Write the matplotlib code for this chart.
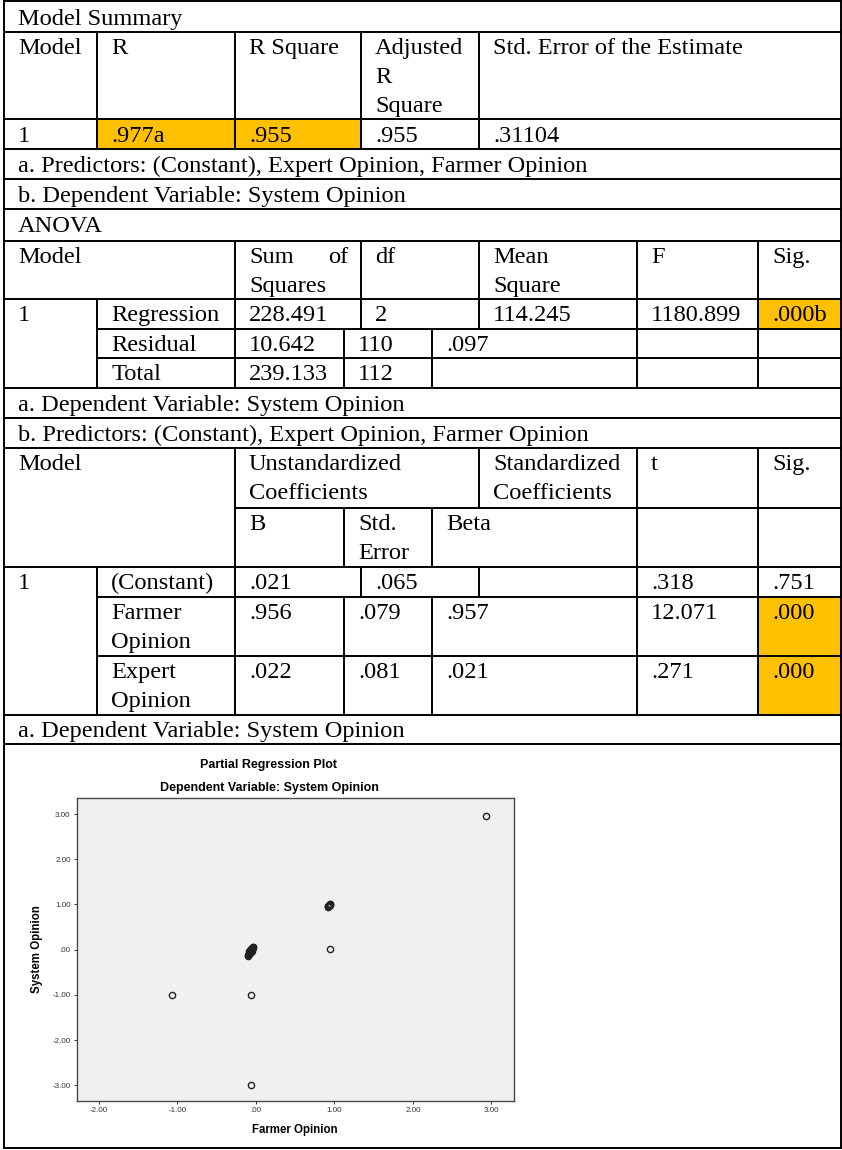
import matplotlib
matplotlib.use("Agg")
import matplotlib.pyplot as plt
from matplotlib.patches import Rectangle

# ---------------- data ----------------
summary_title = "Model Summary"
summary_header = ["Model", "R", "R Square", "Adjusted\nR\nSquare", "Std. Error of the Estimate"]
summary_row = ["1", ".977a", ".955", ".955", ".31104"]
summary_notes = ["a. Predictors: (Constant), Expert Opinion, Farmer Opinion",
                 "b. Dependent Variable: System Opinion"]

anova_title = "ANOVA"
anova_header = ["Model", "Sum of\nSquares", "df", "Mean\nSquare", "F", "Sig."]
anova_model = "1"
anova_sources = ["Regression", "Residual", "Total"]
anova_ss = ["228.491", "10.642", "239.133"]
anova_df = ["2", "110", "112"]
anova_ms = ["114.245", ".097", ""]
anova_f = ["1180.899", "", ""]
anova_sig = [".000b", "", ""]
anova_notes = ["a. Dependent Variable: System Opinion",
               "b. Predictors: (Constant), Expert Opinion, Farmer Opinion"]

coef_header_top = ["Model", "Unstandardized\nCoefficients", "Standardized\nCoefficients", "t", "Sig."]
coef_header_sub = ["B", "Std.\nError", "Beta"]
coef_model = "1"
coef_terms = ["(Constant)", "Farmer\nOpinion", "Expert\nOpinion"]
coef_b = [".021", ".956", ".022"]
coef_se = [".065", ".079", ".081"]
coef_beta = ["", ".957", ".021"]
coef_t = [".318", "12.071", ".271"]
coef_sig = [".751", ".000", ".000"]
coef_notes = ["a. Dependent Variable: System Opinion"]

plot_title = "Partial Regression Plot"
plot_subtitle = "Dependent Variable: System Opinion"
x_label = "Farmer Opinion"
y_label = "System Opinion"
x_ticks = [-2, -1, 0, 1, 2, 3]
x_tick_labels = ["-2.00", "-1.00", ".00", "1.00", "2.00", "3.00"]
y_ticks = [3, 2, 1, 0, -1, -2, -3]
y_tick_labels = ["3.00", "2.00", "1.00", ".00", "-1.00", "-2.00", "-3.00"]

# partial regression residuals
farmer_resid = [2.93,
                0.915, 0.92, 0.925, 0.93, 0.935, 0.94, 0.945, 0.93, 0.94,
                0.945,
                -0.10, -0.095, -0.09, -0.088, -0.085, -0.08, -0.078, -0.075,
                -0.072, -0.07, -0.068, -0.065, -0.062, -0.06, -0.058, -0.055,
                -0.052, -0.05, -0.048, -0.045, -0.042, -0.04, -0.075, -0.065,
                -0.055, -0.085, -0.06, -0.05,
                -1.07, -0.065, -0.06]
system_resid = [2.96,
                0.95, 0.96, 0.975, 0.985, 0.995, 1.005, 1.01, 0.97, 0.99,
                0.01,
                -0.13, -0.12, -0.10, -0.09, -0.08, -0.07, -0.06, -0.05,
                -0.04, -0.035, -0.03, -0.02, -0.01, 0.00, 0.01, 0.015,
                0.02, 0.03, 0.035, 0.04, 0.05, 0.06, -0.02, 0.02,
                -0.04, -0.03, -0.06, 0.00,
                -1.01, -1.01, -2.99]

# ---------------- layout ----------------
W, H = 842, 1150
fig = plt.figure(figsize=(W / 100, H / 100), dpi=100)
tab = fig.add_axes([0, 0, 1, 1])
tab.set_xlim(0, W)
tab.set_ylim(H, 0)
tab.axis("off")

SERIF = ["Liberation Serif", "DejaVu Serif"]
SANS = ["Liberation Sans", "DejaVu Sans"]
FS = 17.6
LS = 29
ORANGE = "#FFC000"
L, R = 4, 841


def txt(x, y, s, ha="left"):
    for i, line in enumerate(s.split("\n")):
        tab.text(x, y + i * LS, line, fontsize=FS, family=SERIF, ha=ha,
                 va="baseline", color="black")


def just(x0, x1, y, s):
    # justified first line (e.g. "Sum    of") + following lines
    lines = s.split("\n")
    words = lines[0].split()
    tab.text(x0, y, words[0], fontsize=FS, family=SERIF, va="baseline")
    tab.text(x1, y, words[-1], fontsize=FS, family=SERIF, va="baseline", ha="right")
    for i, line in enumerate(lines[1:], 1):
        tab.text(x0, y + i * LS, line, fontsize=FS, family=SERIF, va="baseline")


def cell(x0, y0, x1, y1):
    tab.add_patch(Rectangle((x0, y0), x1 - x0, y1 - y0, facecolor=ORANGE,
                            edgecolor="none", zorder=0))


# highlighted cells
cell(97, 119, 235, 149)
cell(235, 119, 361, 149)
cell(758, 299, 841, 329)
cell(758, 597, 841, 656)
cell(758, 656, 841, 715)

LW = 1.4
hl = [(1, L, R), (32, L, R), (119, L, R), (149, L, R), (179, L, R), (209, L, R),
      (241, L, R), (299, L, R), (329, 97, R), (358, 97, R), (388, L, R),
      (418, L, R), (448, L, R), (508, 235, R), (567, L, R), (597, 97, R),
      (656, 97, R), (715, L, R), (744, L, R), (1148, L, R)]
for y, x0, x1 in hl:
    tab.plot([x0, x1], [y, y], color="black", lw=LW, solid_capstyle="projecting")

vl = [(L, 1, 1148), (R, 1, 1148),
      (97, 32, 149), (235, 32, 149), (361, 32, 149), (479, 32, 149),
      (235, 241, 388), (97, 299, 388), (361, 241, 329), (479, 241, 329),
      (344, 329, 388), (432, 329, 388), (637, 241, 388), (758, 241, 388),
      (235, 448, 715), (479, 448, 508), (637, 448, 715), (758, 448, 715),
      (344, 508, 567), (432, 508, 567), (97, 567, 715), (361, 567, 597),
      (479, 567, 597), (344, 597, 715), (432, 597, 715)]
for x, y0, y1 in vl:
    tab.plot([x, x], [y0, y1], color="black", lw=LW, solid_capstyle="projecting")

# ---- Model summary text
txt(18, 25, summary_title)
for s, x in zip(summary_header, [18, 111, 249, 375, 493]):
    txt(x, 54, s)
for s, x in zip(summary_row, [18, 111, 249, 375, 493]):
    txt(x, 142, s)
for i, s in enumerate(summary_notes):
    txt(18, 172 + 30 * i, s)

# ---- ANOVA text
txt(18, 232, anova_title)
txt(18, 263, anova_header[0])
just(249, 348, 263, anova_header[1])
for s, x in zip(anova_header[2:], [375, 493, 651, 772]):
    txt(x, 263, s)
txt(18, 321, anova_model)
row_y = [321, 351, 380]
row_x = [[111, 249, 375, 493, 651, 772],
         [111, 249, 358, 446, 651, 772],
         [111, 249, 358, 446, 651, 772]]
for i in range(3):
    vals = [anova_sources[i], anova_ss[i], anova_df[i], anova_ms[i], anova_f[i], anova_sig[i]]
    for s, x in zip(vals, row_x[i]):
        if s:
            txt(x, row_y[i], s)
for i, s in enumerate(anova_notes):
    txt(18, 411 + 30 * i, s)

# ---- Coefficients text
for s, x in zip(coef_header_top, [18, 249, 493, 651, 772]):
    txt(x, 470, s)
for s, x in zip(coef_header_sub, [249, 358, 446]):
    txt(x, 530, s)
txt(18, 589, coef_model)
crow_y = [589, 619, 678]
crow_x = [[111, 249, 375, 446, 651, 772],
          [111, 249, 358, 446, 651, 772],
          [111, 249, 358, 446, 651, 772]]
for i in range(3):
    vals = [coef_terms[i], coef_b[i], coef_se[i], coef_beta[i], coef_t[i], coef_sig[i]]
    for s, x in zip(vals, crow_x[i]):
        if s:
            txt(x, crow_y[i], s)
txt(18, 737, coef_notes[0])

# ---- partial regression plot
ax_l, ax_r, ax_t, ax_b = 76.5, 514, 798, 1101
ax = fig.add_axes([ax_l / W, 1 - ax_b / H, (ax_r - ax_l) / W, (ax_b - ax_t) / H])
ax.set_facecolor("#f0f0f0")
ax.plot(farmer_resid, system_resid, linestyle="none", marker="o", markersize=4.5,
        markerfacecolor="none", markeredgecolor="#222222", markeredgewidth=1.0)
ax.set_xlim(-2.284, 3.288)
ax.set_ylim(-3.347, 3.354)
ax.set_xticks(x_ticks)
ax.set_xticklabels(x_tick_labels)
ax.set_yticks(y_ticks)
ax.set_yticklabels(y_tick_labels)
ax.tick_params(direction="out", length=2.2, width=0.7, pad=2, labelsize=5.8,
               colors="#333333")
for lab in ax.get_xticklabels() + ax.get_yticklabels():
    lab.set_family(SANS)
for sp in ax.spines.values():
    sp.set_color("#4a4a4a")
    sp.set_linewidth(1.0)

cx = (ax_l + ax_r) / 2
tab.text(269, 765, plot_title, fontsize=9, family=SANS, fontweight="bold",
         ha="center", va="center")
tab.text(269, 788, plot_subtitle, fontsize=9, family=SANS, fontweight="bold",
         ha="center", va="center")
tab.text(cx, 1130, x_label, fontsize=8.3, family=SANS, fontweight="bold",
         ha="center", va="center")
tab.text(37, (ax_t + ax_b) / 2, y_label, fontsize=8.3, family=SANS, fontweight="bold",
         ha="center", va="center", rotation=90)

fig.savefig("out.png", dpi=100)
